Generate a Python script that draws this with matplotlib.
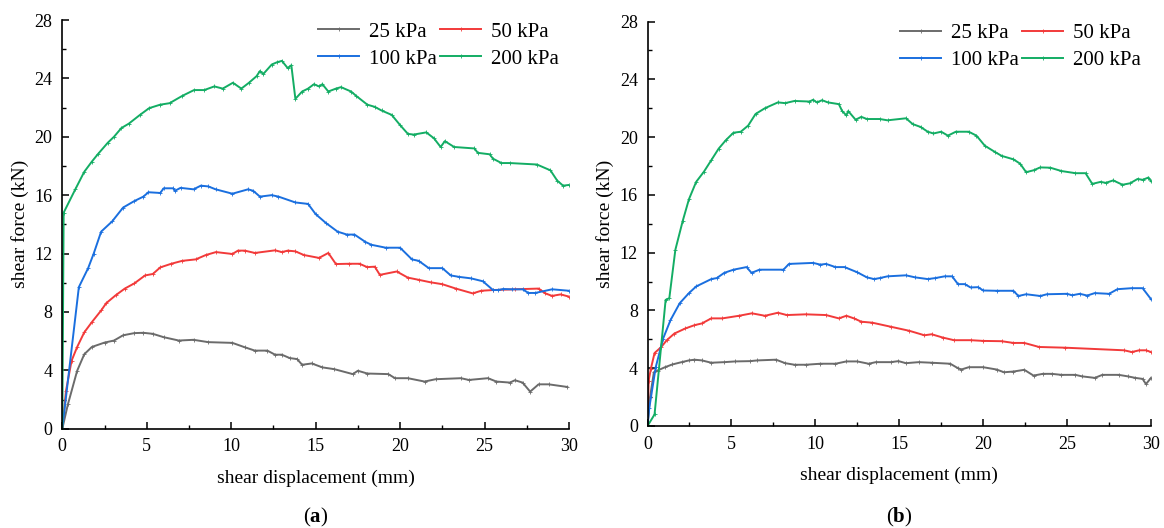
import matplotlib
matplotlib.use("Agg")
import matplotlib.pyplot as plt
from matplotlib.ticker import MultipleLocator

plt.rcParams['font.family'] = ['Liberation Serif', 'DejaVu Serif']
plt.rcParams['mathtext.fontset'] = 'custom'
plt.rcParams['mathtext.rm'] = 'Liberation Serif'
plt.rcParams['mathtext.bf'] = 'Liberation Serif:bold'

labels = ['25 kPa', '50 kPa', '100 kPa', '200 kPa']
colors = ['#6b6b6b', '#f23a3a', '#1a6fdf', '#13ad64']

# ---------------- Panel (a) ----------------
a25_x = [0, 0.33, 0.88, 1.3, 1.75, 2.5, 3.06, 3.6, 4.27, 4.8, 5.36, 6.0, 6.9, 7.77, 8.64, 10.07, 10.8, 11.4,
         12.14, 12.6, 13.0, 13.46, 13.9, 14.2, 14.77, 15.4, 16.1, 17.2, 17.5, 18.06, 19.3, 19.7, 20.46, 21.45,
         22.1, 23.6, 24.07, 25.2, 25.7, 26.5, 26.8, 27.25, 27.7, 28.2, 28.8, 29.9]
a25_y = [0, 1.66, 3.97, 5.1, 5.6, 5.9, 6.04, 6.4, 6.55, 6.57, 6.5, 6.27, 6.04, 6.09, 5.93, 5.88, 5.58, 5.35,
         5.35, 5.07, 5.07, 4.84, 4.77, 4.38, 4.47, 4.2, 4.08, 3.74, 3.97, 3.78, 3.74, 3.46, 3.46, 3.23,
         3.39, 3.46, 3.34, 3.46, 3.23, 3.16, 3.32, 3.16, 2.54, 3.04, 3.04, 2.86]

a50_x = [0, 0.22, 0.55, 0.88, 1.3, 1.75, 2.3, 2.6, 3.17, 3.7, 4.27, 4.9, 5.36, 5.8, 6.45, 7.1, 7.9, 8.5, 9.1,
         10.07, 10.4, 10.8, 11.4, 12.6, 13.0, 13.35, 13.8, 14.3, 15.2, 15.75, 16.2, 16.95, 17.6, 18.05, 18.5,
         18.8, 19.8, 20.46, 21.1, 21.8, 22.5, 23.3, 24.3, 24.8, 25.5, 26.8, 28.2, 28.6, 29.0, 29.5, 30.0]
a50_y = [0, 2.6, 4.66, 5.6, 6.6, 7.3, 8.1, 8.6, 9.15, 9.6, 9.96, 10.5, 10.6, 11.05, 11.3, 11.5, 11.6, 11.9, 12.1,
         11.97, 12.2, 12.2, 12.04, 12.22, 12.1, 12.2, 12.15, 11.9, 11.7, 12.04, 11.28, 11.3, 11.3, 11.07, 11.1,
         10.54, 10.77, 10.35, 10.2, 10.03, 9.9, 9.6, 9.27, 9.45, 9.5, 9.55, 9.6, 9.27, 9.1, 9.2, 9.05]

a100_x = [0, 0.98, 1.53, 1.86, 2.3, 2.95, 3.6, 4.27, 4.8, 5.1, 5.8, 6.0, 6.56, 6.67, 7.0, 7.77, 8.2, 8.64, 9.08,
          10.07, 11.0, 11.3, 11.7, 12.4, 12.8, 13.8, 14.55, 15.0, 15.6, 16.3, 16.85, 17.3, 17.94, 18.3, 19.15,
          20.0, 20.7, 21.1, 21.7, 22.5, 23.0, 23.5, 24.2, 24.9, 25.5, 25.8, 26.1, 26.6, 27.25, 27.6, 28.0,
          29.0, 30.0]
a100_y = [0, 9.7, 11.0, 12.0, 13.5, 14.2, 15.15, 15.6, 15.9, 16.2, 16.15, 16.47, 16.47, 16.3, 16.5, 16.4, 16.65,
          16.6, 16.4, 16.1, 16.4, 16.3, 15.9, 16.0, 15.9, 15.5, 15.4, 14.7, 14.1, 13.5, 13.3, 13.3, 12.8, 12.6,
          12.4, 12.4, 11.6, 11.5, 11.0, 11.0, 10.5, 10.4, 10.3, 10.1, 9.5, 9.5, 9.57, 9.55, 9.55, 9.3, 9.3,
          9.55, 9.45]

a200_x = [0, 0.08, 0.77, 1.3, 1.75, 2.1, 2.7, 3.06, 3.5, 3.94, 4.6, 5.14, 5.8, 6.35, 7.1, 7.8, 8.4, 9.0, 9.5,
          10.1, 10.6, 11.05, 11.5, 11.7, 11.9, 12.4, 12.7, 13.0, 13.35, 13.56, 13.8, 14.2, 14.55, 14.9, 15.2,
          15.4, 15.75, 16.2, 16.5, 17.1, 17.4, 18.06, 18.5, 18.9, 19.5, 20.0, 20.46, 20.8, 21.55, 22.0, 22.4,
          22.65, 23.2, 24.4, 24.6, 25.3, 25.5, 26.0, 26.5, 28.1, 28.9, 29.3, 29.65, 30.0]
a200_y = [0, 14.8, 16.4, 17.6, 18.3, 18.8, 19.6, 20.0, 20.6, 20.9, 21.5, 21.96, 22.2, 22.3, 22.8, 23.2, 23.2,
          23.45, 23.3, 23.7, 23.3, 23.7, 24.15, 24.5, 24.3, 24.95, 25.1, 25.2, 24.7, 24.9, 22.6, 23.1, 23.3,
          23.6, 23.45, 23.6, 23.1, 23.3, 23.4, 23.1, 22.8, 22.2, 22.05, 21.8, 21.5, 20.8, 20.2, 20.15, 20.3,
          19.9, 19.3, 19.7, 19.3, 19.2, 18.9, 18.8, 18.5, 18.2, 18.2, 18.1, 17.7, 17.0, 16.65, 16.7]

# ---------------- Panel (b) ----------------
b25_x = [0, 0.15, 0.38, 0.6, 1.04, 1.48, 2.03, 2.47, 2.8, 3.24, 3.8, 4.57, 5.23, 6.1, 6.55, 7.66, 8.2, 8.76,
         9.43, 10.3, 11.2, 11.85, 12.5, 13.18, 13.6, 14.5, 14.95, 15.4, 16.16, 16.93, 18.04, 18.5, 18.7,
         19.14, 20.0, 20.8, 21.24, 21.8, 22.45, 23.0, 23.55, 24.1, 24.66, 25.5, 25.87, 26.65, 27.1, 28.08,
         28.6, 29.07, 29.5, 29.7, 30.0]
b25_y = [0, 1.98, 3.72, 3.84, 4.07, 4.26, 4.42, 4.54, 4.59, 4.54, 4.38, 4.42, 4.47, 4.49, 4.54, 4.59, 4.35, 4.24,
         4.24, 4.31, 4.31, 4.47, 4.47, 4.31, 4.42, 4.42, 4.49, 4.35, 4.42, 4.38, 4.31, 4.0, 3.91,
         4.07, 4.07, 3.91, 3.72, 3.77, 3.89, 3.49, 3.61, 3.61, 3.54, 3.54, 3.44, 3.33, 3.54, 3.54,
         3.44, 3.33, 3.26, 2.9, 3.33]

b50_x = [0, 0.07, 0.2, 0.42, 0.82, 1.15, 1.6, 2.25, 2.8, 3.24, 3.8, 4.46, 5.45, 6.22, 7.0, 7.77, 8.3, 9.43,
         10.64, 11.4, 11.85, 12.3, 12.74, 13.4, 14.5, 15.6, 16.5, 16.93, 17.6, 18.26, 19.25, 20.0, 21.1,
         21.8, 22.45, 23.33, 24.9, 28.4, 28.85, 29.3, 29.7, 30.0]
b50_y = [0, 3.14, 3.96, 5.05, 5.47, 5.94, 6.4, 6.75, 6.98, 7.1, 7.45, 7.45, 7.63, 7.8, 7.63, 7.84, 7.68, 7.73,
         7.68, 7.45, 7.63, 7.45, 7.22, 7.15, 6.87, 6.59, 6.28, 6.35, 6.12, 5.94, 5.94, 5.89, 5.87,
         5.75, 5.75, 5.47, 5.42, 5.24, 5.12, 5.24, 5.24, 5.12]

b100_x = [0, 0.11, 0.49, 0.93, 1.37, 1.92, 2.47, 2.9, 3.8, 4.13, 4.57, 5.12, 5.9, 6.2, 6.67, 8.1, 8.43, 9.87,
          10.3, 10.64, 11.2, 11.74, 12.5, 13.07, 13.5, 13.84, 14.3, 15.4, 15.94, 16.7, 17.15, 17.7, 18.15,
          18.5, 18.9, 19.25, 19.7, 20.0, 20.8, 21.8, 22.1, 22.56, 23.4, 23.8, 25.0, 25.3, 25.76, 26.2, 26.65,
          27.5, 28.0, 28.85, 29.5, 30.0]
b100_y = [0, 1.28, 4.07, 6.05, 7.33, 8.5, 9.2, 9.66, 10.17, 10.24, 10.6, 10.82, 11.0, 10.6, 10.82, 10.82, 11.22,
          11.29, 11.17, 11.22, 11.0, 11.0, 10.64, 10.29, 10.17, 10.24, 10.36, 10.43, 10.29, 10.17, 10.24,
          10.36, 10.36, 9.82, 9.82, 9.59, 9.61, 9.38, 9.36, 9.36, 9.0, 9.12, 9.0, 9.12, 9.15, 9.05, 9.15,
          9.03, 9.2, 9.15, 9.47, 9.54, 9.54, 8.78]

b200_x = [0, 0.42, 1.08, 1.3, 1.66, 2.1, 2.47, 2.9, 3.36, 3.8, 4.24, 4.68, 5.12, 5.56, 6.0, 6.44, 7.0, 7.77,
          8.2, 8.76, 9.65, 9.87, 10.09, 10.4, 10.75, 11.4, 11.6, 11.85, 11.96, 12.4, 12.74, 13.07, 13.84,
          14.3, 15.4, 15.8, 16.27, 16.7, 17.04, 17.5, 17.9, 18.37, 19.14, 19.6, 20.1, 20.7, 21.1, 21.8,
          22.2, 22.56, 23.0, 23.4, 24.0, 24.66, 25.5, 26.1, 26.5, 27.0, 27.3, 27.75, 28.3, 28.75, 29.2,
          29.5, 29.85, 30.0]
b200_y = [0, 0.8, 8.73, 8.85, 12.2, 14.2, 15.7, 16.9, 17.6, 18.4, 19.2, 19.8, 20.3, 20.37, 20.8, 21.6, 22.0,
          22.4, 22.35, 22.5, 22.46, 22.58, 22.4, 22.55, 22.4, 22.28, 21.8, 21.5, 21.8, 21.2, 21.4, 21.25,
          21.25, 21.16, 21.3, 20.9, 20.7, 20.37, 20.25, 20.37, 20.1, 20.37, 20.37, 20.1, 19.4, 18.97, 18.7,
          18.46, 18.16, 17.57, 17.7, 17.9, 17.88, 17.65, 17.5, 17.5, 16.76, 16.9, 16.83, 17.0, 16.7, 16.8,
          17.1, 17.04, 17.2, 16.95]

panel_a = [(a25_x, a25_y), (a50_x, a50_y), (a100_x, a100_y), (a200_x, a200_y)]
panel_b = [(b25_x, b25_y), (b50_x, b50_y), (b100_x, b100_y), (b200_x, b200_y)]

W, H = 1164, 528
fig = plt.figure(figsize=(W / 100, H / 100), dpi=100)

boxes = [(62.3, 569.0, 20.0, 428.7), (647.5, 1151.0, 21.5, 426.0)]
tags = [r'$(\mathbf{a})$', r'$(\mathbf{b})$']

for (l, r, t, b), data, tag in zip(boxes, [panel_a, panel_b], tags):
    ax = fig.add_axes([l / W, (H - b) / H, (r - l) / W, (b - t) / H])
    lines = []
    for (xs, ys), c, lab in zip(data, colors, labels):
        ln, = ax.plot(xs, ys, color=c, lw=1.4, marker='+', ms=2.5, mew=0.6, label=lab)
        lines.append(ln)
    ax.set_xlim(0, 30)
    ax.set_ylim(0, 28)
    ax.xaxis.set_major_locator(MultipleLocator(5))
    ax.xaxis.set_minor_locator(MultipleLocator(2.5))
    ax.yaxis.set_major_locator(MultipleLocator(4))
    ax.yaxis.set_minor_locator(MultipleLocator(2))
    ax.spines['top'].set_visible(False)
    ax.spines['right'].set_visible(False)
    for s in ('left', 'bottom'):
        ax.spines[s].set_linewidth(1.2)
    ax.tick_params(which='major', direction='in', length=5, width=1.1, labelsize=13, pad=7)
    ax.tick_params(which='minor', direction='in', length=3, width=1.0)
    ax.set_xlabel('shear displacement (mm)', fontsize=14, labelpad=10)
    ax.set_ylabel('shear force (kN)', fontsize=14, labelpad=4)
    order = [0, 2, 1, 3]  # row-wise fill: 25 | 50 / 100 | 200
    ax.legend([lines[i] for i in order], [labels[i] for i in order],
              loc='upper right', ncol=2, frameon=False, fontsize=15,
              handlelength=1.95, handletextpad=0.5, columnspacing=0.15,
              labelspacing=0.35, borderaxespad=0.0, bbox_to_anchor=(0.997, 1.015))
    fig.text(((l + r) / 2) / W, 1 - 517 / H, tag, ha='center', va='center', fontsize=15)

fig.savefig('out.png', dpi=100)
